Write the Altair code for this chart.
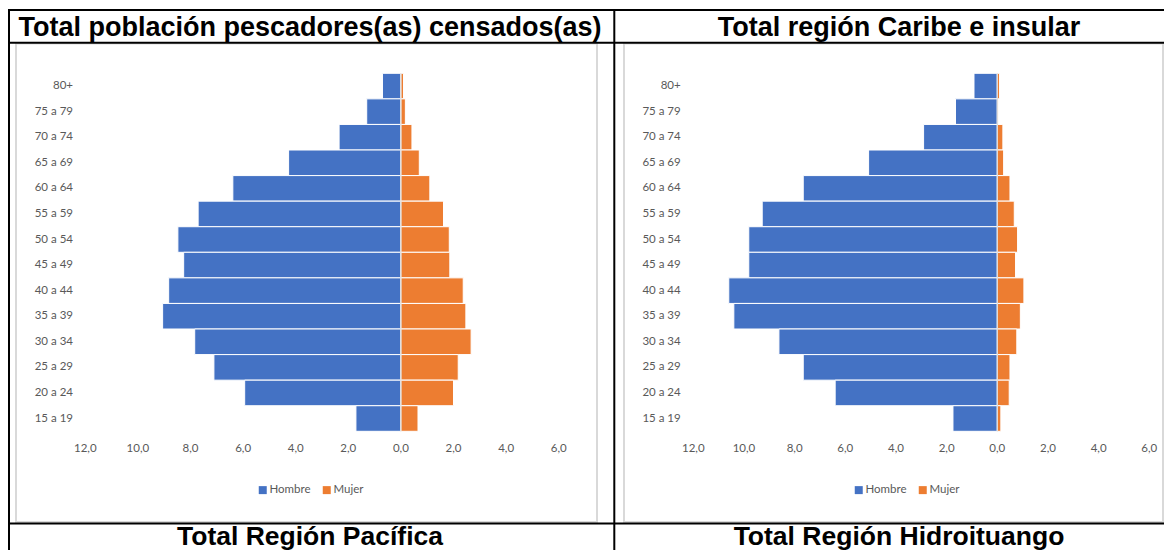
import altair as alt
import pandas as pd

# ---------------- data ----------------
edades = ["80+", "75 a 79", "70 a 74", "65 a 69", "60 a 64", "55 a 59", "50 a 54",
          "45 a 49", "40 a 44", "35 a 39", "30 a 34", "25 a 29", "20 a 24", "15 a 19"]
sexos = ["Hombre", "Mujer"]

# Panel izquierdo (Total Región Pacífica) - porcentajes, de 80+ a 15-19
pac_hombre = [0.70, 1.30, 2.35, 4.27, 6.39, 7.71, 8.48, 8.26, 8.83, 9.06, 7.84, 7.11, 5.94, 1.71]
pac_mujer = [0.10, 0.17, 0.42, 0.70, 1.10, 1.62, 1.84, 1.86, 2.37, 2.47, 2.67, 2.18, 2.00, 0.65]

# Panel derecho (Total Región Hidroituango)
hid_hombre = [0.92, 1.65, 2.91, 5.08, 7.66, 9.28, 9.81, 9.81, 10.60, 10.40, 8.62, 7.66, 6.40, 1.75]
hid_mujer = [0.09, 0.05, 0.22, 0.25, 0.50, 0.67, 0.80, 0.72, 1.05, 0.91, 0.77, 0.50, 0.47, 0.14]

tick_vals = [-12, -10, -8, -6, -4, -2, 0, 2, 4, 6]
tick_labels = ["12,0", "10,0", "8,0", "6,0", "4,0", "2,0", "0,0", "2,0", "4,0", "6,0"]

titulos_sup = ["Total población pescadores(as) censados(as)", "Total región Caribe e insular"]
titulos_inf = ["Total Región Pacífica", "Total Región Hidroituango"]

colores = ["#4472C4", "#ED7D31"]
GRIS = "#595959"
FONT_AX = "Lato"
FONT_T = "Liberation Sans"

W, H = 1156, 542
one = pd.DataFrame({"a": [0]})


def panel(hombre, mujer, x_range, ylab_x, legend_x, box, tcenter, top_title, bottom_title):
    df = pd.DataFrame({
        "edad": edades * 2,
        "sexo": ["Hombre"] * len(edades) + ["Mujer"] * len(edades),
        "valor": [-v for v in hombre] + list(mujer),
    })
    xs = alt.Scale(domain=[-12, 6], range=x_range, nice=False, zero=False)
    ys = alt.Scale(domain=edades, range=[65.3, 423.3], paddingInner=0, paddingOuter=0)

    frame = alt.Chart(one).mark_rect(fill="white", stroke="#d9d9d9", strokeWidth=2).encode(
        x=alt.value(box[0]), x2=alt.value(box[1]), y=alt.value(35.5), y2=alt.value(514)
    )

    bars = alt.Chart(df).mark_bar(stroke="white", strokeWidth=1).encode(
        x=alt.X("valor:Q", scale=xs, axis=None),
        y=alt.Y("edad:N", scale=ys, axis=None),
        color=alt.Color(
            "sexo:N",
            scale=alt.Scale(domain=sexos, range=colores),
            legend=alt.Legend(
                orient="none", legendX=legend_x, legendY=476, direction="horizontal",
                title=None, symbolType="square", symbolSize=64, symbolStrokeWidth=0,
                labelFont=FONT_AX, labelFontSize=11.5, labelColor=GRIS,
                labelOffset=1, columnPadding=10, padding=0,
            ),
        ),
    )

    zero = alt.Chart(pd.DataFrame({"v": [0]})).mark_rule(color="#d9d9d9", strokeWidth=1).encode(
        x=alt.X("v:Q", scale=xs, axis=None), y=alt.value(65.3), y2=alt.value(423.3)
    )

    ylabels = alt.Chart(pd.DataFrame({"edad": edades})).mark_text(
        align="right", baseline="middle", font=FONT_AX, fontSize=11.5, color=GRIS
    ).encode(
        y=alt.Y("edad:N", scale=ys, axis=None), x=alt.value(ylab_x), text="edad:N"
    )

    xlabels = alt.Chart(pd.DataFrame({"v": tick_vals, "t": tick_labels})).mark_text(
        align="center", baseline="middle", font=FONT_AX, fontSize=11.5, color=GRIS
    ).encode(
        x=alt.X("v:Q", scale=xs, axis=None), y=alt.value(441), text="t:N"
    )

    t1 = alt.Chart(one).mark_text(
        align="center", baseline="alphabetic", font=FONT_T, fontWeight="bold", fontSize=27, color="black"
    ).encode(x=alt.value(tcenter), y=alt.value(28), text=alt.value(top_title))

    t2 = alt.Chart(one).mark_text(
        align="center", baseline="alphabetic", font=FONT_T, fontWeight="bold", fontSize=26.5, color="black"
    ).encode(x=alt.value(tcenter), y=alt.value(536.5), text=alt.value(bottom_title))

    return [frame, bars, zero, ylabels, xlabels, t1, t2]


left = panel(pac_hombre, pac_mujer, [77.3, 550.7], 65, 249, (8, 589), 302,
             titulos_sup[0], titulos_inf[0])
right = panel(hid_hombre, hid_mujer, [685.3, 1141.3], 672.7, 845, (616, 1155), 891,
              titulos_sup[1], titulos_inf[1])

# table borders (black)
lines = [
    (0, W, 2, 2),            # top
    (0, W, 34.7, 34.7),      # under header
    (0, W, 515.5, 515.5),    # above footer
    (1, 1, 2, H),            # left
    (606.3, 606.3, 2, H),    # middle
]
borders = [
    alt.Chart(one).mark_rule(color="black", strokeWidth=2).encode(
        x=alt.value(a), x2=alt.value(b), y=alt.value(c), y2=alt.value(d)
    )
    for a, b, c, d in lines
]

chart = (
    alt.layer(*(left + right + borders))
    .resolve_scale(x="independent", y="independent", color="independent")
    .resolve_legend(color="independent")
    .properties(width=W, height=H, padding=0, autosize="none", background="white")
    .configure_view(stroke=None)
)

chart.save("out.html", embed_options={"renderer": "svg", "actions": False})
